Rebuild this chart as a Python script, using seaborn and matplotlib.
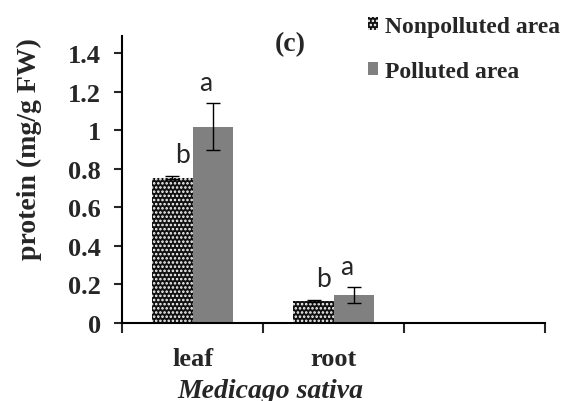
import pandas as pd
import numpy as np
import matplotlib
matplotlib.use("Agg")
import matplotlib.pyplot as plt
import seaborn as sns
from matplotlib.patches import Patch
from matplotlib.container import BarContainer

# data
organs = ["leaf", "root"]
areas = ["Nonpolluted area", "Polluted area"]
nonpolluted = [0.755, 0.115]
polluted = [1.02, 0.145]
nonpolluted_err = [0.01, 0.005]
polluted_err = [0.12, 0.04]
nonpolluted_letters = ["b", "b"]
polluted_letters = ["a", "a"]

df = pd.DataFrame({
    "organ": organs * 2,
    "area": [areas[0]] * 2 + [areas[1]] * 2,
    "protein": nonpolluted + polluted,
    "err": nonpolluted_err + polluted_err,
    "letter": nonpolluted_letters + polluted_letters,
})

sns.set_style("white")
plt.rcParams["font.family"] = ["Liberation Serif", "DejaVu Serif"]
plt.rcParams["hatch.linewidth"] = 1.2

fig = plt.figure(figsize=(5.65, 4.02), dpi=100)
ax = fig.add_axes([0.216, 0.194, 0.749, 0.714])

order = organs + [" "]
sns.barplot(data=df, x="organ", y="protein", hue="area", order=order,
            hue_order=areas, palette=["#111111", "#808080"], width=0.57,
            errorbar=None, saturation=1, legend=False, ax=ax)

# hatch the nonpolluted bars, add error bars and letters
bar_conts = [c for c in ax.containers if isinstance(c, BarContainer)]
for hi, cont in enumerate(bar_conts):
    for bar in cont:
        h = bar.get_height()
        if np.isnan(h) or h == 0:
            continue
        cx = bar.get_x() + bar.get_width() / 2
        oi = int(round(cx))
        row = df[(df.organ == organs[oi]) & (df.area == areas[hi])].iloc[0]
        if hi == 0:
            bar.set_hatch("....")
            bar.set_edgecolor("white")
            bar.set_linewidth(0)
        else:
            bar.set_edgecolor("#808080")
            bar.set_linewidth(0)
        ax.errorbar(cx, row.protein, yerr=row.err, fmt="none", ecolor="black",
                    elinewidth=1, capsize=5, capthick=1)
        top = row.protein + row.err
        ax.text(cx + 0.07 if hi == 0 else cx - 0.05, top + 0.045, row.letter,
                ha="center", va="bottom", fontsize=19, family="Lato")

ax.set_xlim(-0.5, 2.5)
ax.set_ylim(0, 1.49)
ax.set_yticks(np.arange(0, 1.41, 0.2))
ax.set_yticklabels(["0", "0.2", "0.4", "0.6", "0.8", "1", "1.2", "1.4"],
                   fontsize=19, fontweight="bold")
ax.set_xticks([-0.5, 0.5, 1.5, 2.5])
ax.set_xticklabels([])
ax.set_xticks([0, 1], minor=True)
ax.set_xticklabels(organs, minor=True, fontsize=19, fontweight="bold")
ax.tick_params(axis="x", which="major", direction="out", length=7, width=1.5,
               bottom=True)
ax.tick_params(axis="x", which="minor", length=0, pad=17)
ax.tick_params(axis="y", direction="out", length=6, width=1.5, left=True,
               pad=9)

for s in ["top", "right"]:
    ax.spines[s].set_visible(False)
for s in ["left", "bottom"]:
    ax.spines[s].set_color("black")
    ax.spines[s].set_linewidth(1.5)

ax.set_xlabel("Medicago sativa", fontsize=20, fontweight="bold",
              fontstyle="italic")
ax.xaxis.set_label_coords(0.35, -0.19)
ax.set_ylabel("protein (mg/g FW)", fontsize=20, fontweight="bold")
ax.yaxis.set_label_coords(-0.189, 0.61)
ax.text(0.69, 1.45, "(c)", ha="center", va="center", fontsize=20,
        fontweight="bold")

handles = [Patch(facecolor="#111111", edgecolor="white", hatch="....",
                 linewidth=0),
           Patch(facecolor="#808080", edgecolor="#808080", linewidth=0)]
fig.legend(handles, areas, loc="upper left", bbox_to_anchor=(0.613, 1.01),
           frameon=False, prop={"size": 17, "weight": "bold"},
           handlelength=0.45, handleheight=0.45, handletextpad=0.3,
           labelspacing=1.0)

fig.savefig("out.png", dpi=100)
